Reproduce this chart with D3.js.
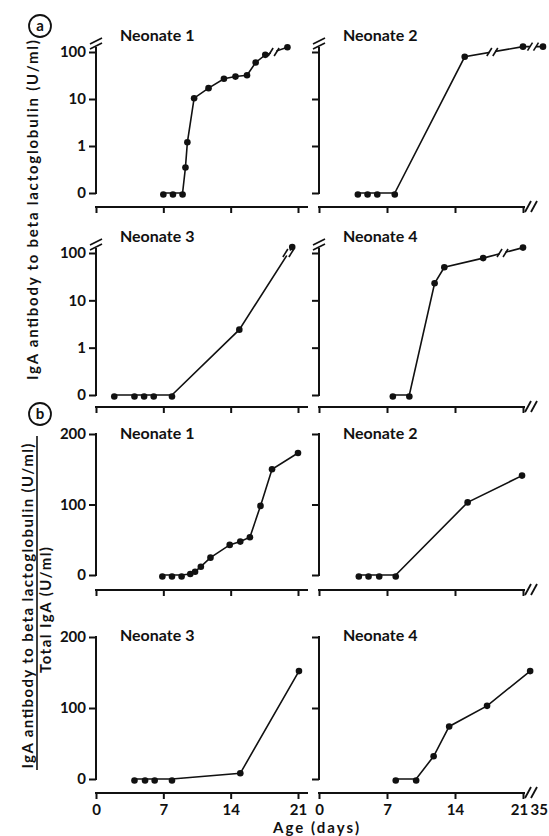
<!DOCTYPE html>
<html>
<head>
<meta charset="utf-8">
<script src="https://d3js.org/d3.v7.min.js"></script>
<style>
body { margin: 0; background: #fff; }
svg text { font-family: Lato, "DejaVu Sans", sans-serif; font-weight: 700; fill: #111; }
</style>
</head>
<body>
<svg id="drawing_region"></svg>
<script>
// tick values
const day_ticks = [0, 7, 14, 21];
const log_ticks = [0.1, 1, 10, 100];
const log_tick_labels = ["0", "1", "10", "100"];
const ratio_ticks = [0, 100, 200];
const titles = ["Neonate 1", "Neonate 2", "Neonate 3", "Neonate 4"];

// (a) IgA antibody to beta lactoglobulin (U/ml), log scale, 0 = not detected
const a1_days   = [7, 8, 9, 9.3, 9.5, 10.2, 11.7, 13.3, 14.5, 15.7, 16.6, 17.6, 19.9];
const a1_values = [0, 0, 0, 0.35, 1.2, 10.4, 17, 27, 30, 32, 60, 87, 126];
const a2_days   = [4, 5, 6, 7.8, 15, 21, 35];
const a2_values = [0, 0, 0, 0, 79, 130, 130];
const a3_days   = [1.9, 4, 5, 6, 7.9, 14.9, 20.4];
const a3_values = [0, 0, 0, 0, 0, 2.4, 134];
const a4_days   = [7.6, 9.3, 11.9, 12.9, 16.9, 21];
const a4_values = [0, 0, 23, 50, 78, 130];

// (b) IgA antibody / total IgA
const b1_days   = [6.9, 7.9, 8.9, 9.8, 10.3, 10.9, 11.9, 13.9, 15.0, 16.0, 17.1, 18.3, 21.0];
const b1_values = [0, 0, 0, 1.4, 4.7, 11.8, 24.6, 42.7, 47.4, 53.6, 98, 150, 173];
const b2_days   = [4.1, 5.1, 6.2, 7.9, 15.3, 20.9];
const b2_values = [0, 0, 0, 0, 103, 141];
const b3_days   = [4.0, 5.1, 6.1, 7.9, 15.0, 21.1];
const b3_values = [0, 0, 0, 0, 8, 152];
const b4_days   = [7.9, 10.0, 11.8, 13.4, 17.3, 26];
const b4_values = [0, 0, 32, 74, 103, 152];

const col_layout = [
    {x0: 96, x21: 298, x35: null, title_x: 120},
    {x0: 319, x21: 523, x35: 543, title_x: 343}
];
const row_layout = {
    a: [{y_top: 52, y_bottom: 193, axis_y: 207, title_y: 41},
        {y_top: 253, y_bottom: 395, axis_y: 407, title_y: 242}],
    b: [{y_top: 434, y_bottom: 575, axis_y: 590, title_y: 439},
        {y_top: 637, y_bottom: 779, axis_y: 793, title_y: 641}]
};

const svg = d3.select('#drawing_region')
    .attr('width', 549)
    .attr('height', 836);

const zip = (days, values) => days.map((d, i) => ({day: d, value: values[i]}));

class Panel {
    constructor(config, data) {
        this.config = config;
        this.data = data;
        this.init();
    }

    init() {
        let self = this;
        const c = self.config;
        self.chart = svg.append('g');

        if (c.col === 0) {
            self.xscale = d3.scaleLinear().domain([0, 21]).range([c.x0, c.x21]);
        } else {
            self.xscale = d3.scaleLinear().domain([0, 21, 35]).range([c.x0, c.x21, c.x35]);
        }

        if (c.log) {
            self.yscale = d3.scaleLog().domain([0.1, 100]).range([c.y_bottom, c.y_top]);
        } else {
            self.yscale = d3.scaleLinear().domain([0, 200]).range([c.y_bottom, c.y_top]);
        }
        self.ypos = v => c.log ? self.yscale(Math.max(v, 0.1)) : self.yscale(v);

        self.line = d3.line()
            .x(d => self.xscale(d.day))
            .y(d => self.ypos(d.value));
    }

    slashes(cx, cy) {
        let self = this;
        [-3, 3].forEach(o => {
            self.chart.append('line')
                .attr('x1', cx + o - 2.5).attr('y1', cy + 4)
                .attr('x2', cx + o + 2.5).attr('y2', cy - 4)
                .attr('stroke', '#111').attr('stroke-width', 1.6);
        });
    }

    render() {
        let self = this;
        const c = self.config;

        // y axis
        const yaxis = d3.axisLeft(self.yscale)
            .tickValues(c.log ? log_ticks : ratio_ticks)
            .tickSize(7)
            .tickPadding(3)
            .tickFormat((d, i) => c.col === 1 ? '' : (c.log ? log_tick_labels[i] : d));
        const yg = self.chart.append('g')
            .attr('transform', `translate(${c.x0},0)`)
            .call(yaxis);
        yg.select('.domain').remove();
        yg.selectAll('line').attr('stroke', '#111').attr('stroke-width', 2);
        yg.selectAll('text').style('font-size', '15px');

        const ytop = self.yscale.range()[1];
        self.chart.append('line')
            .attr('x1', c.x0).attr('x2', c.x0)
            .attr('y1', c.y_bottom + 1)
            .attr('y2', c.log ? ytop - 5 : ytop - 1)
            .attr('stroke', '#111').attr('stroke-width', 2);
        if (c.log) {
            [ytop - 6, ytop - 11].forEach(y => {
                self.chart.append('line')
                    .attr('x1', c.x0 - 6).attr('y1', y + 3)
                    .attr('x2', c.x0 + 6).attr('y2', y - 3)
                    .attr('stroke', '#111').attr('stroke-width', 1.8);
            });
        }

        // x axis
        const xaxis = d3.axisBottom(self.xscale)
            .tickValues(day_ticks)
            .tickSize(6)
            .tickSizeOuter(0)
            .tickPadding(5)
            .tickFormat(c.labels ? d3.format('d') : '');
        const xg = self.chart.append('g')
            .attr('transform', `translate(0,${c.axis_y})`)
            .call(xaxis);
        xg.select('.domain').remove();
        xg.selectAll('line').attr('stroke', '#111').attr('stroke-width', 2);
        xg.selectAll('text').style('font-size', '15px');
        if (c.col === 1) {
            xg.selectAll('text').filter(d => d === 21).attr('dx', -4);
        }

        const xend = c.col === 0 ? self.xscale(21) + 10 : self.xscale(21) + 2;
        xg.append('line')
            .attr('x1', self.xscale(0) - 1).attr('x2', xend)
            .attr('y1', 0).attr('y2', 0)
            .attr('stroke', '#111').attr('stroke-width', 2);
        if (c.col === 1) {
            [self.xscale(21) + 5, self.xscale(21) + 11].forEach(x => {
                xg.append('line')
                    .attr('x1', x - 3).attr('y1', 5)
                    .attr('x2', x + 3).attr('y2', -6)
                    .attr('stroke', '#111').attr('stroke-width', 1.8);
            });
            if (c.labels) {
                xg.append('text')
                    .attr('x', 548)
                    .attr('y', 11)
                    .attr('dy', '0.71em')
                    .attr('text-anchor', 'end')
                    .style('font-size', '15px')
                    .text('35');
            }
        }

        // title
        self.chart.append('text')
            .attr('x', c.title_x)
            .attr('y', c.title_y)
            .style('font-size', '16px')
            .text(c.title);

        // data line
        self.chart.append('path')
            .attr('d', self.line(self.data))
            .attr('fill', 'none')
            .attr('stroke', '#111')
            .attr('stroke-width', 1.6);

        // breaks where a segment crosses the broken y axis (100) or the broken x axis
        for (let i = 1; i < self.data.length; i++) {
            const a = self.data[i - 1], b = self.data[i];
            const ax = self.xscale(a.day), ay = self.ypos(a.value);
            const bx = self.xscale(b.day), by = self.ypos(b.value);
            let t = null;
            if (c.log && a.value < 100 && b.value > 100) {
                t = (ay - self.yscale(100)) / (ay - by);
            } else if (c.col === 1 && a.day <= 21 && b.day >= 28) {
                t = (self.xscale(28) - ax) / (bx - ax);
            }
            if (t === null) continue;
            const px = ax + t * (bx - ax), py = ay + t * (by - ay);
            const len = Math.hypot(bx - ax, by - ay);
            const ux = (bx - ax) / len, uy = (by - ay) / len;
            self.chart.append('line')
                .attr('x1', px - 3 * ux).attr('y1', py - 3 * uy)
                .attr('x2', px + 3 * ux).attr('y2', py + 3 * uy)
                .attr('stroke', '#fff').attr('stroke-width', 4);
            self.slashes(px, py);
        }

        self.chart.selectAll('circle')
            .data(self.data)
            .enter()
            .append('circle')
            .attr('cx', d => self.xscale(d.day))
            .attr('cy', d => self.ypos(d.value) + (d.value === 0 ? 1.5 : 0))
            .attr('r', 3.3)
            .attr('fill', '#111');
    }
}

const panel_data = [
    {section: 'a', col: 0, row: 0, title: titles[0], days: a1_days, values: a1_values},
    {section: 'a', col: 1, row: 0, title: titles[1], days: a2_days, values: a2_values},
    {section: 'a', col: 0, row: 1, title: titles[2], days: a3_days, values: a3_values},
    {section: 'a', col: 1, row: 1, title: titles[3], days: a4_days, values: a4_values},
    {section: 'b', col: 0, row: 0, title: titles[0], days: b1_days, values: b1_values},
    {section: 'b', col: 1, row: 0, title: titles[1], days: b2_days, values: b2_values},
    {section: 'b', col: 0, row: 1, title: titles[2], days: b3_days, values: b3_values},
    {section: 'b', col: 1, row: 1, title: titles[3], days: b4_days, values: b4_values}
];

panel_data.forEach(p => {
    const config = Object.assign({
        col: p.col,
        title: p.title,
        log: p.section === 'a',
        labels: p.section === 'b' && p.row === 1
    }, col_layout[p.col], row_layout[p.section][p.row]);
    const panel = new Panel(config, zip(p.days, p.values));
    panel.render();
});

// section markers
[{letter: 'a', x: 40, y: 26}, {letter: 'b', x: 40, y: 414}].forEach(s => {
    svg.append('circle')
        .attr('cx', s.x).attr('cy', s.y).attr('r', 11)
        .attr('fill', 'none').attr('stroke', '#111').attr('stroke-width', 1.8);
    svg.append('text')
        .attr('x', s.x).attr('y', s.y)
        .attr('dy', '0.35em')
        .attr('text-anchor', 'middle')
        .style('font-size', '15px')
        .text(s.letter);
});

// axis titles
svg.append('text')
    .attr('transform', 'translate(38,210) rotate(-90)')
    .attr('text-anchor', 'middle')
    .attr('textLength', 340)
    .style('font-size', '15px')
    .text('IgA antibody to beta lactoglobulin (U/ml)');

svg.append('text')
    .attr('transform', 'translate(33,606) rotate(-90)')
    .attr('text-anchor', 'middle')
    .attr('textLength', 325)
    .style('font-size', '15px')
    .text('IgA antibody to beta lactoglobulin (U/ml)');

svg.append('line')
    .attr('x1', 37).attr('x2', 37)
    .attr('y1', 436).attr('y2', 770)
    .attr('stroke', '#111').attr('stroke-width', 1.6);

svg.append('text')
    .attr('transform', 'translate(51,610) rotate(-90)')
    .attr('text-anchor', 'middle')
    .attr('textLength', 126)
    .style('font-size', '15px')
    .text('Total IgA (U/ml)');

svg.append('text')
    .attr('x', 316)
    .attr('y', 833)
    .attr('text-anchor', 'middle')
    .attr('textLength', 86)
    .style('font-size', '15px')
    .text('Age (days)');
</script>
</body>
</html>
